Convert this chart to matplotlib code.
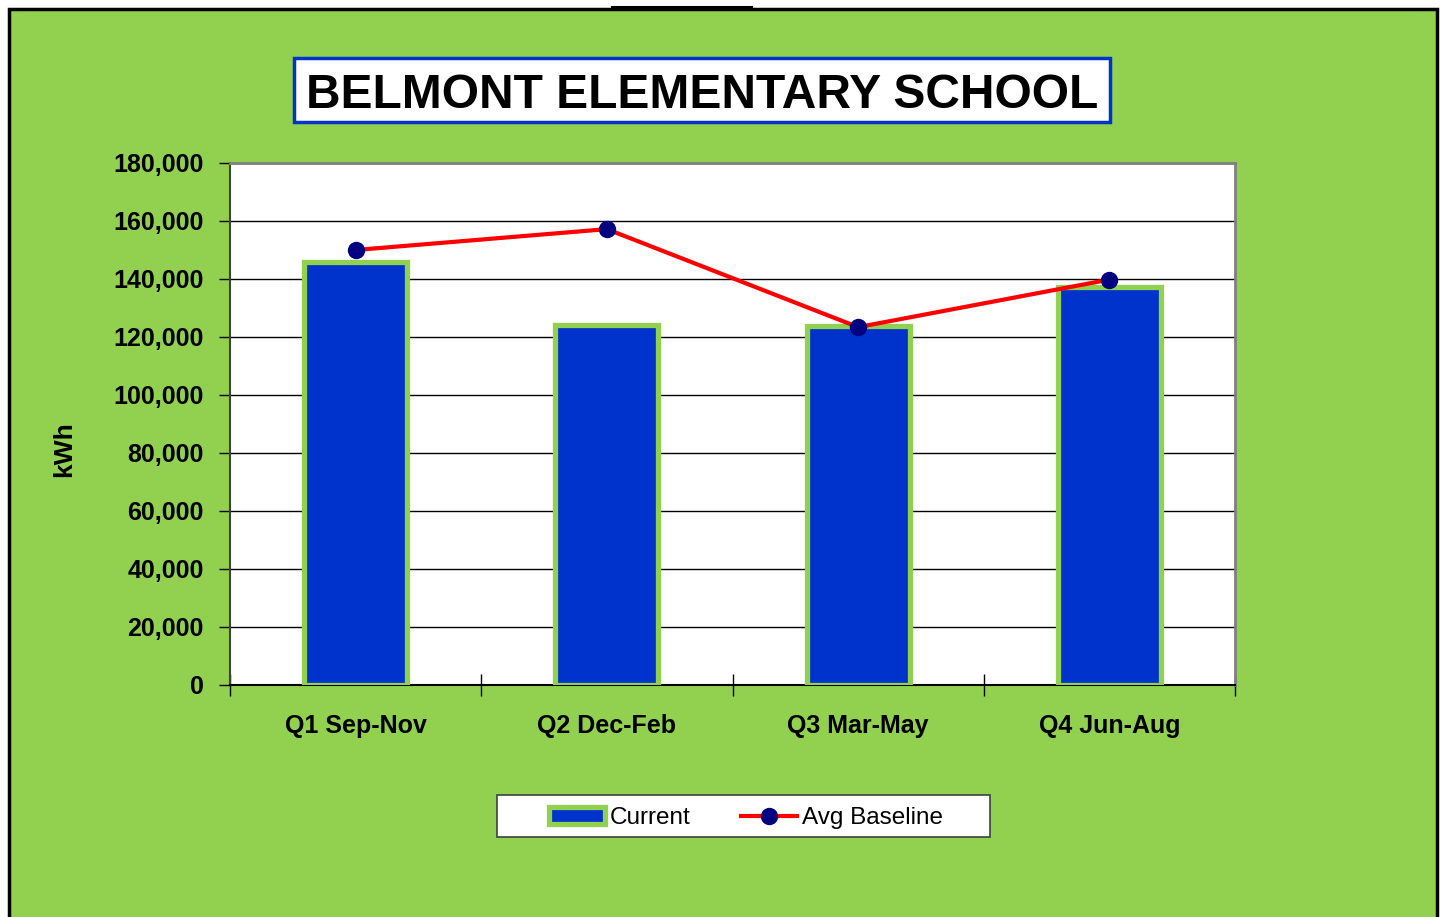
import matplotlib.pyplot as plt
from matplotlib.patches import Rectangle
from matplotlib.lines import Line2D
import numpy as np

quarters = ["Q1 Sep-Nov", "Q2 Dec-Feb", "Q3 Mar-May", "Q4 Jun-Aug"]
current = [146000, 124000, 123800, 137300]
avg_baseline = [150000, 157200, 123400, 139800]
yticks = [0, 20000, 40000, 60000, 80000, 100000, 120000, 140000, 160000, 180000]

green = "#92D050"
blue = "#0033CC"
sans = ["Liberation Sans", "DejaVu Sans"]
W, H = 1444, 917

fig = plt.figure(figsize=(W / 100, H / 100), dpi=100)
fig.patch.set_facecolor("white")

# green panel with black frame
panel = Rectangle((9 / W, -0.05), 1428 / W, 1.05 - 9 / H, transform=fig.transFigure,
                  facecolor=green, edgecolor="black", linewidth=2.5, zorder=-10)
fig.patches.append(panel)
fig.add_artist(Line2D([612 / W, 752 / W], [1 - 7 / H, 1 - 7 / H], color="black",
                      linewidth=1.5, transform=fig.transFigure))

ax = fig.add_axes([230 / W, 1 - 685 / H, 1005 / W, 522 / H])
ax.set_facecolor("white")

x = np.arange(len(quarters)) + 0.5
bars = ax.bar(x, current, width=0.41, color=blue, edgecolor=green, linewidth=3.8,
              zorder=3, label="Current")
line, = ax.plot(x, avg_baseline, color="red", linewidth=3, marker="o", markersize=11.5,
                markerfacecolor="#000080", markeredgecolor="#000080", zorder=4,
                label="Avg Baseline")

ax.set_xlim(0, 4)
ax.set_ylim(0, 180000)
ax.set_yticks(yticks)
ax.set_yticklabels([f"{v:,}" for v in yticks], fontsize=18, fontweight="bold", family=sans)
ax.yaxis.grid(True, color="black", linewidth=1)
ax.set_axisbelow(True)

ax.set_xticks(np.arange(5))
ax.set_xticklabels([])
ax.set_xticks(x, minor=True)
ax.set_xticklabels(quarters, minor=True, fontsize=18, fontweight="bold", family=sans)
ax.tick_params(axis="x", which="minor", length=0, pad=21)
ax.tick_params(axis="x", which="major", direction="inout", length=16, width=1)
ax.tick_params(axis="y", direction="out", length=8, width=1, pad=11)

for s in ["top", "right"]:
    ax.spines[s].set_color("#808080")
    ax.spines[s].set_linewidth(2)
ax.spines["left"].set_color("#404040")
ax.spines["bottom"].set_color("black")
ax.spines["left"].set_linewidth(1.5)
ax.spines["bottom"].set_linewidth(1.5)

ax.set_ylabel("kWh", fontsize=19, fontweight="bold", family=sans)
ax.yaxis.set_label_coords(-0.153, 0.452)

# title box
fig.patches.append(Rectangle((294 / W, 1 - 122 / H), 816 / W, 64 / H, transform=fig.transFigure,
                             facecolor="white", edgecolor=blue, linewidth=2.5, zorder=1))
fig.text(702 / W, 1 - 108 / H, "BELMONT ELEMENTARY SCHOOL", ha="center", va="baseline",
         fontsize=34.5, fontweight="bold", family=sans, zorder=2)

# legend box
fig.patches.append(Rectangle((497 / W, 1 - 837 / H), 493 / W, 42 / H, transform=fig.transFigure,
                             facecolor="white", edgecolor="#404040", linewidth=1.2, zorder=1))
fig.legend([bars, line], ["Current", "Avg Baseline"], loc="center",
           bbox_to_anchor=(746 / W, 1 - 818 / H), ncol=2,
           prop={"family": sans, "size": 17.5},
           frameon=False, handlelength=2.3, handletextpad=0.2, columnspacing=2.1,
           borderaxespad=0)

fig.savefig("out.png", dpi=100, facecolor=fig.get_facecolor())
